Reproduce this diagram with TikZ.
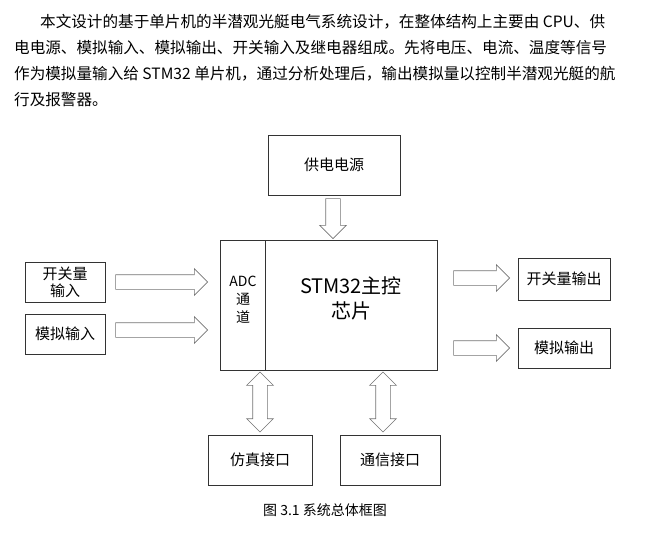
\documentclass[tikz,border=0pt]{standalone}
\usepackage{fontspec}
\setmainfont{Noto Sans CJK SC}
\usetikzlibrary{shapes.arrows}
\begin{document}
\begin{tikzpicture}[x=1pt,y=-1pt,
  box/.style={draw=black!80,line width=0.8pt,fill=white,font=\fontsize{15}{18}\selectfont,align=center},
  sarrow/.style={single arrow,draw=black!55,fill=white,line width=0.6pt,minimum width=26pt,single arrow head extend=6pt,inner sep=7pt},
  darrow/.style={double arrow,draw=black!55,fill=white,line width=0.6pt,minimum width=26pt,double arrow head extend=6pt,inner sep=7pt},
  para/.style={anchor=west,font=\fontsize{15.6}{18}\selectfont,inner sep=0pt}]
\useasboundingbox (0,0) rectangle (657,543);
\node[para] (p1) at (40,22) {本文设计的基于单片机的半潜观光艇电气系统设计，在整体结构上主要由 CPU、供};
\node[para] (p2) at (14,48) {电电源、模拟输入、模拟输出、开关输入及继电器组成。先将电压、电流、温度等信号};
\node[para] (p3) at (14,74) {作为模拟量输入给 STM32 单片机，通过分析处理后，输出模拟量以控制半潜观光艇的航};
\node[para] (p4) at (14,100) {行及报警器。};
\node[box,minimum width=132pt,minimum height=60pt] (pwr) at (334,165) {供电电源};
\node[box,minimum width=217pt,minimum height=130pt] (main) at (328.5,305) {};
\draw[black!80,line width=0.8pt] (265,240) coordinate (d1) -- (265,370) coordinate (d2);
\node[font=\fontsize{14}{18}\selectfont,align=center] (adc) at (243,300) {ADC\\通\\道};
\node[font=\fontsize{20}{25}\selectfont,align=center] (stm) at (351,298) {STM32主控\\芯片};
\node[box,minimum width=80pt,minimum height=40pt,font=\fontsize{15}{17}\selectfont] (sin) at (65,282) {开关量\\输入};
\node[box,minimum width=80pt,minimum height=40pt] (ain) at (65,334) {模拟输入};
\node[box,minimum width=92pt,minimum height=42pt] (sout) at (564,279) {开关量输出};
\node[box,minimum width=92pt,minimum height=40pt] (aout) at (564,348) {模拟输出};
\node[box,minimum width=104pt,minimum height=50pt] (sim) at (260,460) {仿真接口};
\node[box,minimum width=100pt,minimum height=50pt] (com) at (390,460) {通信接口};
\node[sarrow,rotate=-90,minimum height=40pt] (a0) at (333,215) {};
\node[sarrow,minimum height=92pt] (a1) at (158,282) {};
\node[sarrow,minimum height=92pt] (a2) at (158,330) {};
\node[sarrow,minimum height=56pt] (a3) at (478,278) {};
\node[sarrow,minimum height=56pt] (a4) at (478,348) {};
\node[darrow,rotate=90,minimum height=60pt] (a5) at (260,402) {};
\node[darrow,rotate=90,minimum height=60pt] (a6) at (383,402) {};
\node[font=\fontsize{14}{16}\selectfont] (cap) at (325,510) {图 3.1 系统总体框图};
\end{tikzpicture}
\end{document}
